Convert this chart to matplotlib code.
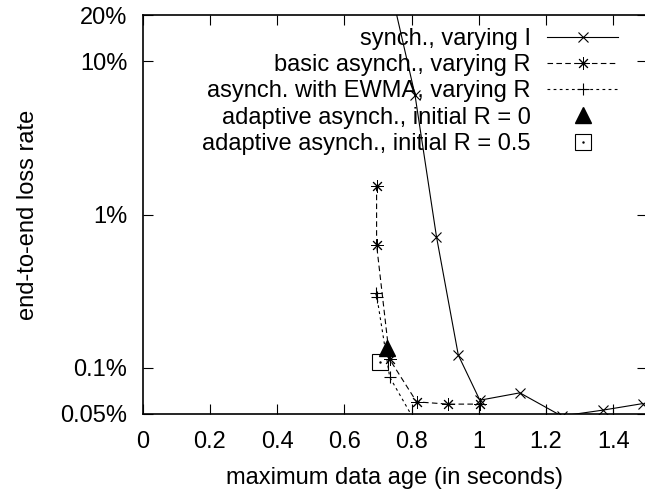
import matplotlib
matplotlib.use('Agg')
import matplotlib.pyplot as plt

# data (loss rate in percent)
synch_x = [0.72, 0.81, 0.874, 0.939, 1.003, 1.122, 1.246, 1.369, 1.488]
synch_y = [44.0, 6.05, 0.718, 0.121, 0.0615, 0.0687, 0.0485, 0.053, 0.0585]

basic_x = [0.696, 0.696, 0.735, 0.815, 0.909, 1.003]
basic_y = [1.54, 0.634, 0.1135, 0.060, 0.058, 0.058]

ewma_x = [0.693, 0.697, 0.735, 0.80, 1.0, 1.2, 1.4]
ewma_y = [0.306, 0.29, 0.087, 0.049, 0.049, 0.049, 0.049]

adapt0_x = [0.726]
adapt0_y = [0.134]
adapt5_x = [0.707]
adapt5_y = [0.1085]

xticks = [0, 0.2, 0.4, 0.6, 0.8, 1, 1.2, 1.4]
xticklabels = ['0', '0.2', '0.4', '0.6', '0.8', '1', '1.2', '1.4']
yticks = [0.05, 0.1, 1, 10, 20]
yticklabels = ['0.05%', '0.1%', '1%', '10%', '20%']

plt.rcParams['font.family'] = ['Liberation Sans', 'DejaVu Sans']
plt.rcParams['font.size'] = 17

fig = plt.figure(figsize=(6.45, 4.93), dpi=100)
ax = fig.add_axes([142.5 / 645, 79 / 493, 504.5 / 645, 399 / 493])

l1, = ax.plot(synch_x, synch_y, color='black', lw=0.8, marker='x', ms=7,
              mew=0.8, label='synch., varying I')
l2, = ax.plot(basic_x, basic_y, color='black', lw=0.8, ls=(0, (5, 3)),
              marker=(8, 2, 0), ms=9, mew=0.7, label='basic asynch., varying R')
l3, = ax.plot(ewma_x, ewma_y, color='black', lw=0.8, ls=(0, (2.5, 3)),
              marker='+', ms=8, mew=0.8, label='asynch. with EWMA, varying R')
l4, = ax.plot(adapt0_x, adapt0_y, ls='none', marker='^', ms=12, color='black',
              label='adaptive asynch., initial R = 0')
l5, = ax.plot(adapt5_x, adapt5_y, ls='none', marker='s', ms=11.5, mfc='none',
              mec='black', mew=0.8)
d5, = ax.plot(adapt5_x, adapt5_y, ls='none', marker='.', ms=1.5, color='black')

ax.set_yscale('log')
ax.set_xlim(0, 1.5)
ax.set_ylim(0.05, 20)
ax.set_xticks(xticks)
ax.set_xticklabels(xticklabels)
ax.set_yticks(yticks)
ax.set_yticklabels(yticklabels)
ax.yaxis.set_minor_locator(matplotlib.ticker.NullLocator())

ax.tick_params(direction='in', length=7, width=0.8, top=True, right=True)
ax.tick_params(axis='x', pad=12)
ax.tick_params(axis='y', pad=11)
for s in ax.spines.values():
    s.set_linewidth(1.2)

ax.set_xlabel('maximum data age (in seconds)', labelpad=10)
ax.set_ylabel('end-to-end loss rate', labelpad=15)

ax.legend([l1, l2, l3, l4, (l5, d5)],
          ['synch., varying I', 'basic asynch., varying R',
           'asynch. with EWMA, varying R', 'adaptive asynch., initial R = 0',
           'adaptive asynch., initial R = 0.5'],
          loc='upper right', bbox_to_anchor=(618 / 645, 1 - 28 / 493),
          bbox_transform=fig.transFigure, frameon=False, markerfirst=False,
          handlelength=3.0, handletextpad=0.7, labelspacing=0.18,
          borderpad=0, borderaxespad=0)

fig.savefig('out.png', dpi=100)
